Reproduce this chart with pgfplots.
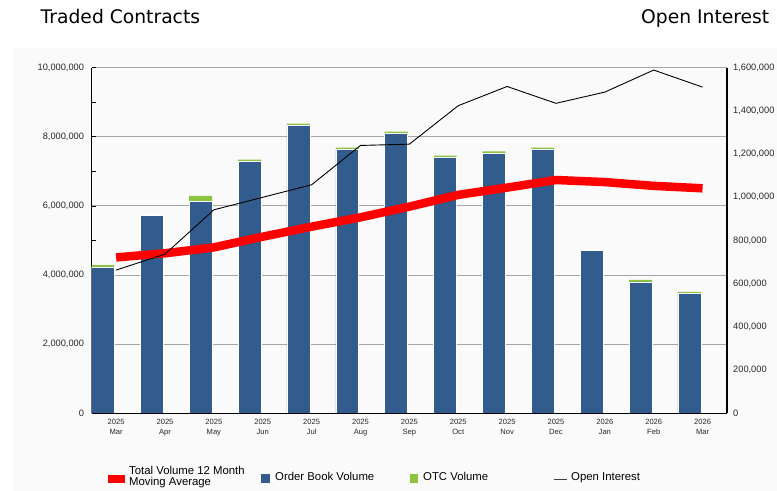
\documentclass[border=0pt]{standalone}
\usepackage{fontspec}
\setmainfont{Liberation Sans}
\newfontfamily\titlefont{DejaVu Sans}
\usepackage{pgfplots}
\pgfplotsset{compat=1.18}
\definecolor{obblue}{RGB}{50,92,142}
\definecolor{otcgreen}{RGB}{140,196,64}
\definecolor{mavred}{RGB}{255,0,0}
\definecolor{panel}{RGB}{250,250,250}
\definecolor{gridgray}{RGB}{165,165,165}
\definecolor{ticktext}{RGB}{40,40,40}

\pgfplotsset{
  common/.style={
    at={(91.7bp,77.7bp)}, anchor=south west,
    width=635.3bp, height=345.6bp, scale only axis,
    xmin=0, xmax=13,
    scaled y ticks=false,
    /pgf/number format/fixed,
    /pgf/number format/1000 sep={,},
    /pgf/number format/assume math mode=true,
  }
}

\begin{document}
\begin{tikzpicture}[x=1bp,y=1bp]
\path[use as bounding box] (0,0) rectangle (777,491);
\fill[panel] (13,0) rectangle (777,443.3);

\node[anchor=base west, inner sep=0pt, font=\titlefont\fontsize{18.8}{22}\selectfont] at (40.5,467) {Traded Contracts};
\node[anchor=base east, inner sep=0pt, font=\titlefont\fontsize{18.8}{22}\selectfont] at (769.5,467) {Open Interest};

% volumes, left axis
\begin{axis}[common,
    ymin=0, ymax=10000000,
    axis x line*=bottom, axis y line*=left,
    axis line style={black, line width=1.2bp},
    ytick={0,2000000,4000000,6000000,8000000,10000000},
    minor ytick={1000000,3000000,5000000,7000000,9000000},
    ymajorgrids,
    grid style={draw=gridgray, line width=0.9bp},
    tick align=inside,
    major tick length=4bp, minor tick length=4bp,
    ytick style={black, line width=0.8bp},
    yticklabel style={font=\fontsize{9.3}{10}\selectfont, text=ticktext, anchor=east, inner sep=0pt, xshift=-7.5bp},
    xtick={0.5,1.5,2.5,3.5,4.5,5.5,6.5,7.5,8.5,9.5,10.5,11.5,12.5},
    xticklabels={{2025\\Mar},{2025\\Apr},{2025\\May},{2025\\Jun},{2025\\Jul},{2025\\Aug},{2025\\Sep},{2025\\Oct},{2025\\Nov},{2025\\Dec},{2026\\Jan},{2026\\Feb},{2026\\Mar}},
    xtick style={draw=none},
    xticklabel style={font=\fontsize{7.6}{10}\selectfont, text=ticktext, align=center, anchor=north, inner sep=0pt, yshift=-5.5bp},
    ybar stacked, bar width=0.47,
]
% order book volume
\addplot[fill=obblue, draw=white, line width=0.6bp] coordinates {
  (0.23,4230000) (1.23,5715000) (2.23,6130000) (3.23,7280000) (4.23,8320000)
  (5.23,7625000) (6.23,8090000) (7.23,7395000) (8.23,7515000) (9.23,7630000)
  (10.23,4720000) (11.23,3800000) (12.23,3460000)
};
% OTC volume
\addplot[fill=otcgreen, draw=none] coordinates {
  (0.23,60000) (1.23,0) (2.23,160000) (3.23,60000) (4.23,60000)
  (5.23,60000) (6.23,60000) (7.23,60000) (8.23,60000) (9.23,60000)
  (10.23,0) (11.23,60000) (12.23,50000)
};
\end{axis}

% 12 month moving average, left scale
\begin{axis}[common, ymin=0, ymax=10000000, hide axis]
\addplot[mavred, line width=8.5bp, line join=round] coordinates {
  (0.5,4510000) (1.5,4630000) (2.5,4800000) (3.5,5110000) (4.5,5400000)
  (5.5,5670000) (6.5,5980000) (7.5,6320000) (8.5,6530000) (9.5,6750000)
  (10.5,6690000) (11.5,6580000) (12.5,6510000)
};
\end{axis}

% open interest, right axis (also redraws the bottom axis line over the bars)
\begin{axis}[common,
    ymin=0, ymax=1600000,
    axis x line*=bottom, axis y line*=right,
    xtick=\empty,
    axis line style={black, line width=1.2bp},
    ytick={0,200000,400000,600000,800000,1000000,1200000,1400000,1600000},
    major tick length=0pt,
    yticklabel style={font=\fontsize{9.3}{10}\selectfont, text=ticktext, anchor=west, inner sep=0pt, xshift=6bp},
]
\addplot[black, line width=0.9bp] coordinates {
  (0.5,663000) (1.5,737000) (2.5,942000) (3.5,1000000) (4.5,1058000)
  (5.5,1240000) (6.5,1246000) (7.5,1424000) (8.5,1513000) (9.5,1435000)
  (10.5,1487000) (11.5,1589000) (12.5,1510000)
};
\end{axis}

% legend
\begin{scope}[every node/.style={anchor=base west, inner sep=0pt, font=\fontsize{11.4}{12}\selectfont, text={RGB:red,26;green,26;blue,26}}]
\fill[mavred] (108,8) rectangle (125,16);
\node at (129,16.5) {Total Volume 12 Month};
\node at (129,5.5) {Moving Average};
\fill[obblue] (261,7.7) rectangle (270,16.7);
\node at (275,10.6) {Order Book Volume};
\fill[otcgreen] (410,7.7) rectangle (418,16.7);
\node at (423,10.6) {OTC Volume};
\draw[line width=1.5bp, black!75] (553.5,11.7) -- (566.5,11.7);
\node at (571,10.6) {Open Interest};
\end{scope}
\end{tikzpicture}
\end{document}
